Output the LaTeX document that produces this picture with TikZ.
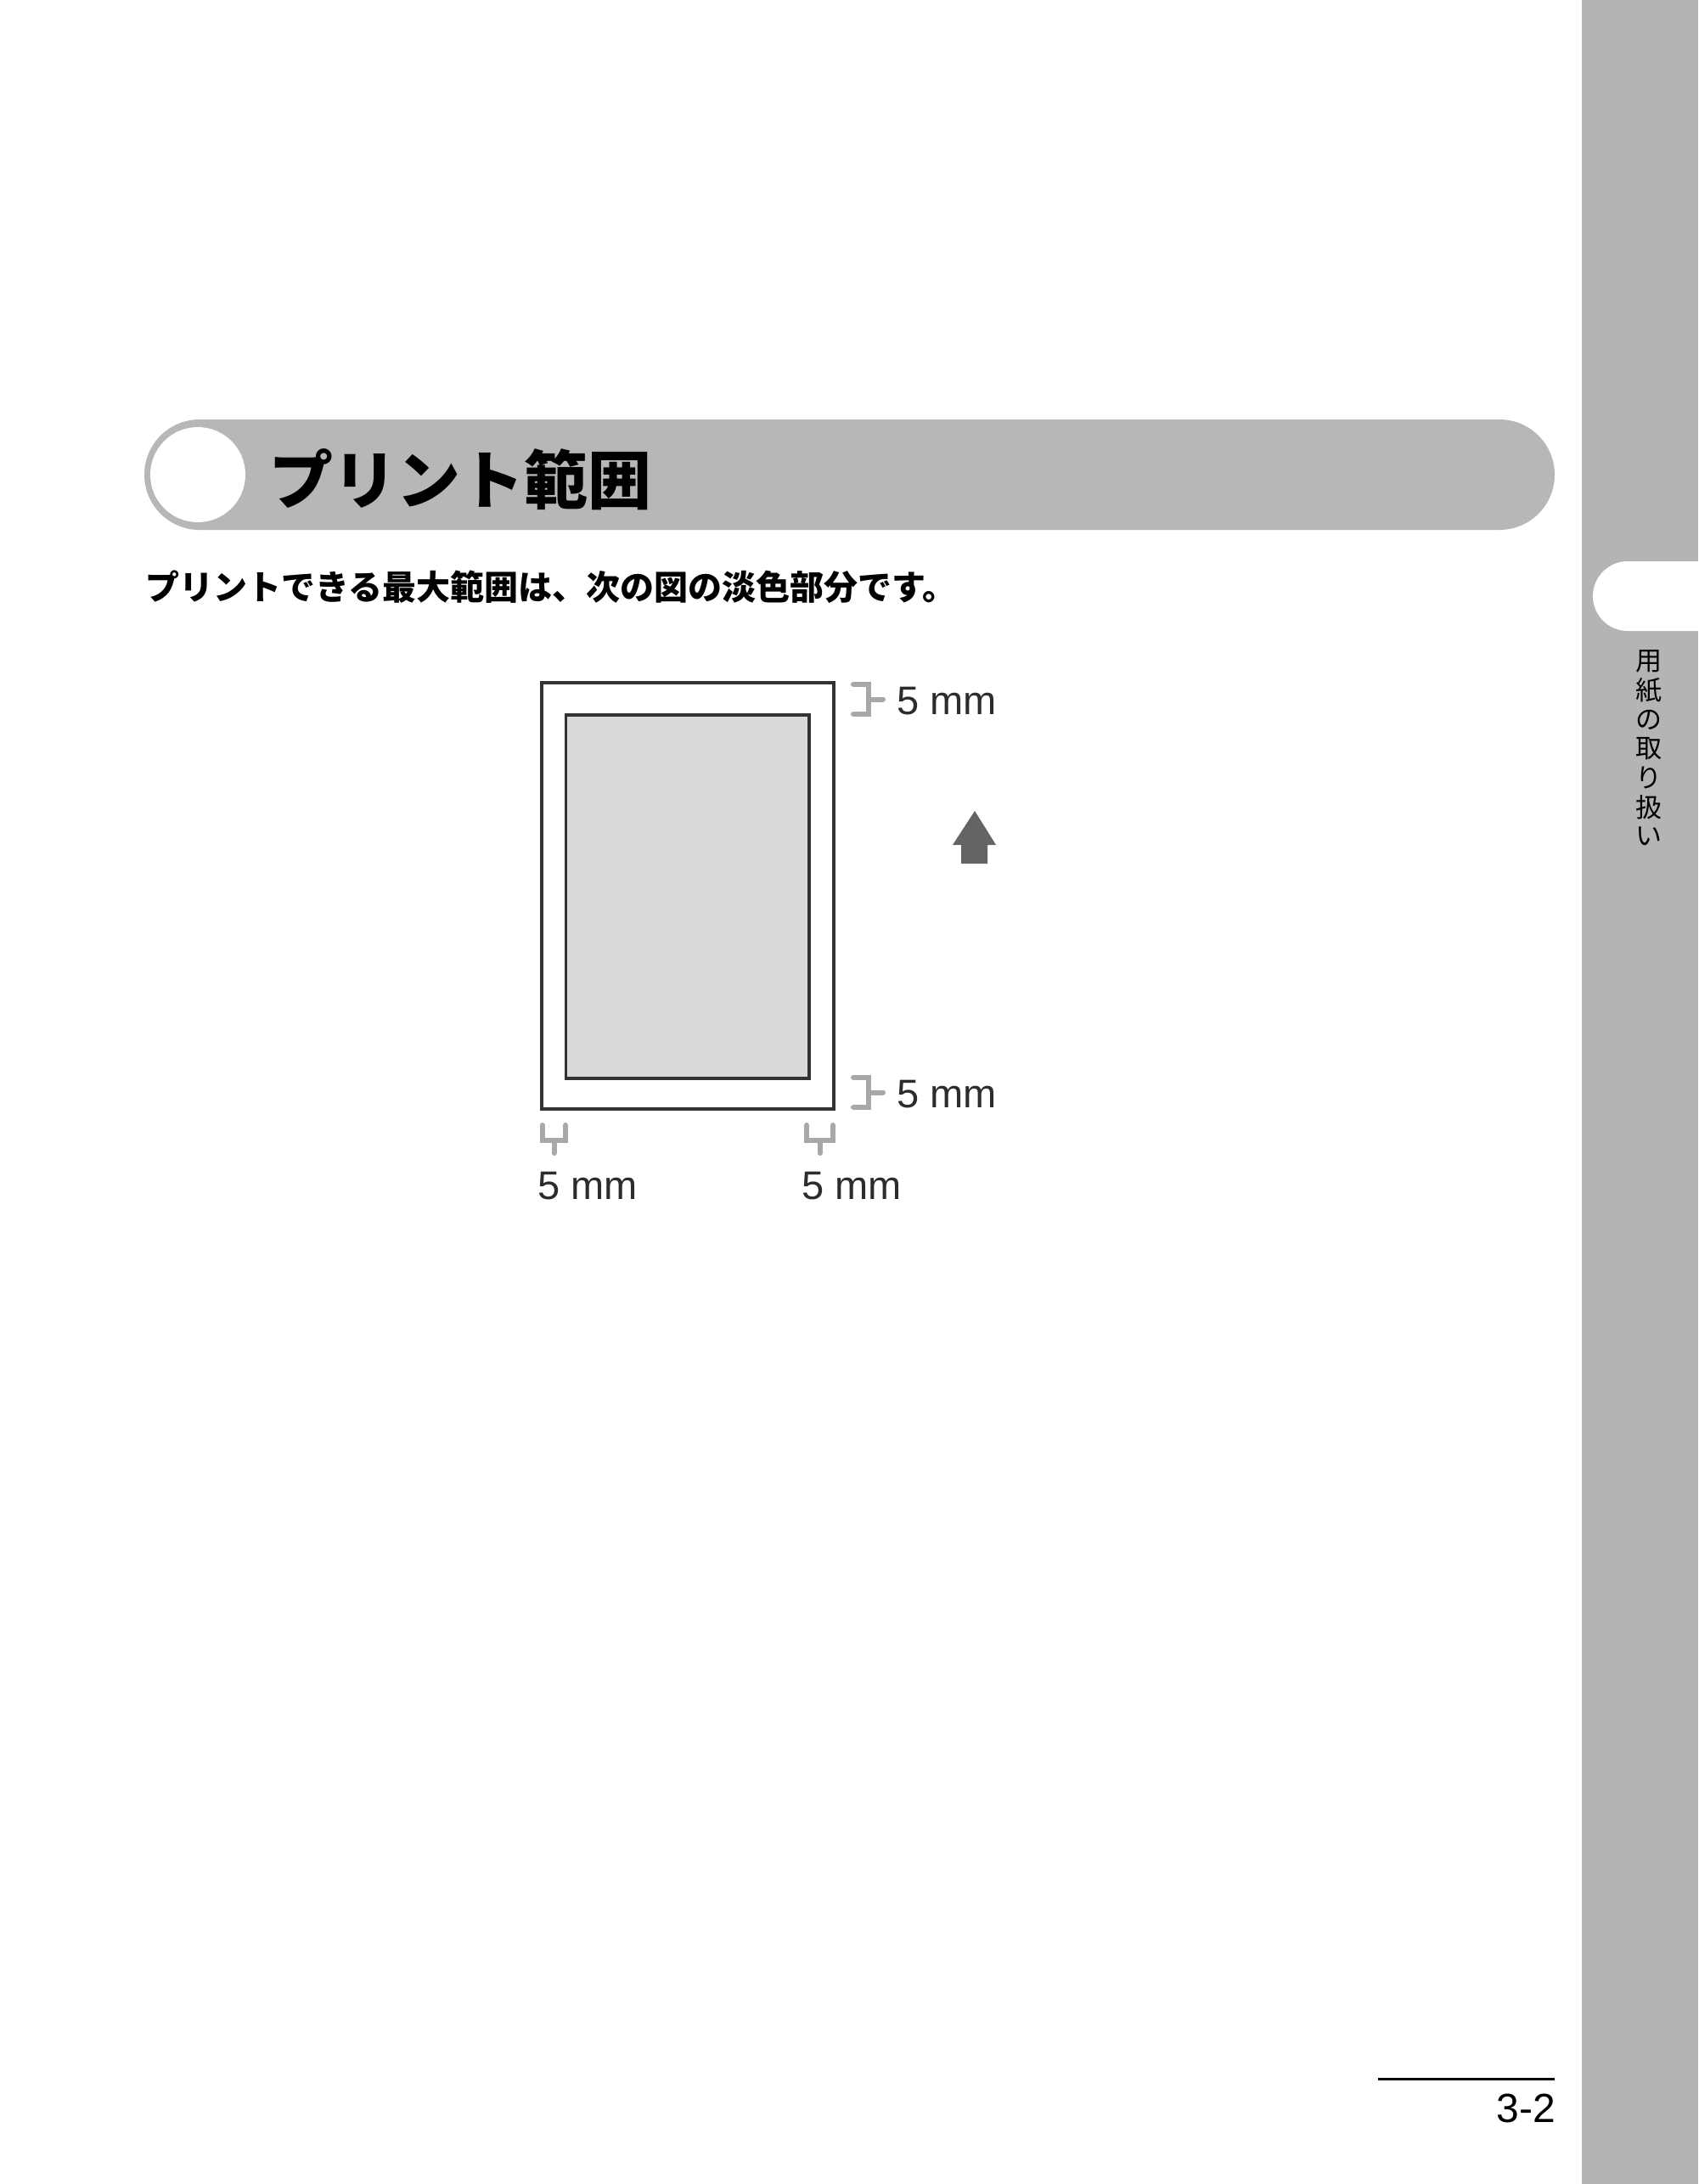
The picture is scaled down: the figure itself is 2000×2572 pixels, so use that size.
\documentclass[tikz,border=0pt]{standalone}
\usepackage{fontspec}
\setmainfont{Liberation Sans}
\newfontfamily\jpfont{Noto Sans CJK JP}
\definecolor{bargray}{HTML}{B7B7B7}
\definecolor{sidegray}{HTML}{B4B4B4}
\definecolor{framegray}{HTML}{323235}
\definecolor{areagray}{HTML}{D8D9DB}
\definecolor{markgray}{HTML}{A8A8A8}
\definecolor{arrowgray}{HTML}{646466}
\definecolor{labelgray}{HTML}{2C2C2F}
\begin{document}
\begin{tikzpicture}[x=1pt,y=-1pt,
  mmlabel/.style={anchor=base west,inner sep=0pt,text=labelgray,font=\fontsize{47}{47}\selectfont},
  gapmark/.style={draw=markgray,line width=6pt,line cap=round},
  sidechar/.style={inner sep=0pt,font=\jpfont\fontsize{31}{31}\selectfont}]
\useasboundingbox (0,0) rectangle (2000,2572);
\fill[white] (0,0) rectangle (2000,2572);
\fill[sidegray] (1863,0) rectangle (2000,2572);
\fill[white,rounded corners=41pt] (1876,661) rectangle (2060,743);
\foreach \c [count=\i] in {用,紙,の,取,り,扱,い}
  \node[sidechar] (side\i) at (1942,{779+34.3*(\i-1)}) {\c};
\fill[bargray,rounded corners=65pt] (170,494) rectangle (1831,624);
\node[circle,fill=white,inner sep=0pt,minimum size=112pt] (ring) at (233,559) {};
\node[anchor=west,inner sep=0pt,font=\jpfont\bfseries\fontsize{75}{75}\selectfont] (title) at (317,565) {プリント範囲};
\node[anchor=west,inner sep=0pt,font=\jpfont\bfseries\fontsize{40}{40}\selectfont] (intro) at (171,691) {プリントできる最大範囲は、次の図の淡色部分です。};
\draw[framegray,line width=3.5pt] (638,804) rectangle (982,1306);
\draw[framegray,line width=3.5pt,fill=areagray] (666.5,842) rectangle (953,1270);
\draw[gapmark] (1005,806) -- (1023,806) -- (1023,841) -- (1005,841);
\draw[gapmark] (1023,823.5) -- (1040,823.5);
\node[mmlabel] (top) at (1056,841) {5 mm};
\draw[gapmark] (1005,1269) -- (1023,1269) -- (1023,1304) -- (1005,1304);
\draw[gapmark] (1023,1286.5) -- (1040,1286.5);
\node[mmlabel] (bottom) at (1056,1304) {5 mm};
\draw[gapmark] (639,1325) -- (639,1343) -- (666,1343) -- (666,1325);
\draw[gapmark] (652.5,1343) -- (652.5,1358);
\node[mmlabel] (left) at (633,1412) {5 mm};
\draw[gapmark] (950,1325) -- (950,1343) -- (981,1343) -- (981,1325);
\draw[gapmark] (965.5,1343) -- (965.5,1358);
\node[mmlabel] (right) at (944,1412) {5 mm};
\fill[arrowgray] (1148,955) -- (1173,995) -- (1163,995) -- (1163,1017) -- (1132,1017) -- (1132,995) -- (1122,995) -- cycle;
\draw[line width=3pt] (1623,2448) -- (1831,2448);
\node[anchor=base east,inner sep=0pt,font=\fontsize{48}{48}\selectfont] (page) at (1832,2499) {3-2};
\end{tikzpicture}
\end{document}
